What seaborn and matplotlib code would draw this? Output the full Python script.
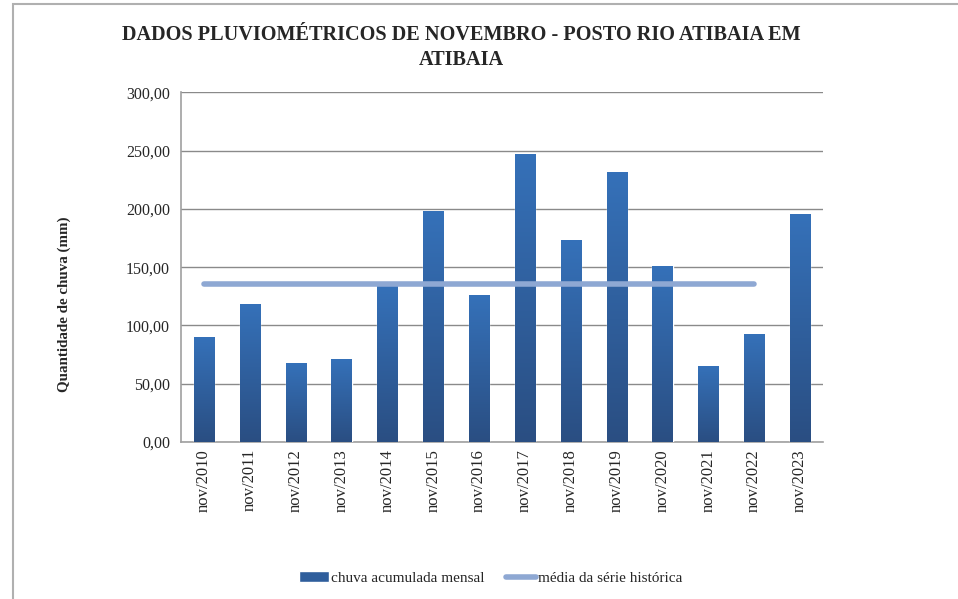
import numpy as np
import pandas as pd
import matplotlib
matplotlib.use("Agg")
import matplotlib.pyplot as plt
import seaborn as sns
from matplotlib.patches import Rectangle
from matplotlib.lines import Line2D

# Data
meses = ["nov/2010", "nov/2011", "nov/2012", "nov/2013", "nov/2014", "nov/2015", "nov/2016",
         "nov/2017", "nov/2018", "nov/2019", "nov/2020", "nov/2021", "nov/2022", "nov/2023"]
chuva = [89.7, 118.0, 67.5, 71.0, 134.0, 198.0, 126.0, 247.0, 173.0, 231.4, 151.0, 65.5, 92.9, 195.5]
media = [135.8, 135.8, 135.8, 135.8, 135.8, 135.8, 135.8, 135.8, 135.8, 135.8, 135.8, 135.8, 135.8, np.nan]
y_ticks = [0, 50, 100, 150, 200, 250, 300]

df = pd.DataFrame({"mes": meses, "chuva": chuva, "media": media})

sns.set_theme(style="white")
plt.rcParams["font.family"] = ["Liberation Serif", "DejaVu Serif"]

fig = plt.figure(figsize=(9.58, 5.99), dpi=100)
ax = fig.add_axes([0.189, 0.262, 0.670, 0.584])

# outer chart frame (partly cut by the image edge)
fig.patches.append(Rectangle((13 / 958, -0.1), 1.2, 1.1 - 4 / 599, transform=fig.transFigure,
                             fill=False, edgecolor="#b0b0b0", linewidth=1.5, zorder=0))

sns.barplot(data=df, x="mes", y="chuva", color="#2f63a3", width=0.44, ax=ax, zorder=3)

# vertical gradient inside each bar
grad = np.linspace(0, 1, 256).reshape(-1, 1)
cmap = matplotlib.colors.LinearSegmentedColormap.from_list("g", ["#2a4e82", "#3571b9"])
for p in ax.patches:
    x0, y0 = p.get_x(), p.get_y()
    w, h = p.get_width(), p.get_height()
    im = ax.imshow(grad, extent=[x0, x0 + w, y0, y0 + h], origin="lower", cmap=cmap,
                   aspect="auto", zorder=4)
    im.set_clip_path(p)

ax.plot(np.arange(len(meses)), df["media"], color="#8ea8d3", linewidth=4,
        solid_capstyle="round", zorder=5)

ax.set_xlim(-0.5, len(meses) - 0.5)
ax.set_ylim(0, 300)
ax.set_yticks(y_ticks)
ax.set_yticklabels([f"{v:.2f}".replace(".", ",") for v in y_ticks], fontsize=11.5)
ax.set_xticks(range(len(meses)))
ax.set_xticklabels(meses, rotation=90, fontsize=12)
ax.tick_params(axis="y", length=0, pad=8)
ax.tick_params(axis="x", length=0, pad=5)
ax.yaxis.grid(True, color="#8a8a8a", linewidth=1)
ax.set_axisbelow(True)
ax.set_xlabel("")
ax.set_ylabel("Quantidade de chuva (mm)", fontsize=10.8, fontweight="bold")
ax.yaxis.set_label_coords(-0.172, 0.395)
for s in ["top", "right"]:
    ax.spines[s].set_visible(False)
for s in ["left", "bottom"]:
    ax.spines[s].set_color("#a0a0a0")
    ax.spines[s].set_linewidth(1.2)

fig.text(0.482, 0.921, "DADOS PLUVIOMÉTRICOS DE NOVEMBRO - POSTO RIO ATIBAIA EM\nATIBAIA",
         ha="center", va="center", fontsize=14.6, fontweight="bold", linespacing=1.3)

handles = [Rectangle((0, 0), 1, 1, facecolor="#2f5e9c"),
           Line2D([0], [0], color="#8ea8d3", linewidth=4, solid_capstyle="round")]
fig.legend(handles, ["chuva acumulada mensal", "média da série histórica"],
           loc="center", bbox_to_anchor=(0.512, 0.035), ncol=2, frameon=False,
           fontsize=11, handlelength=2.0, handletextpad=0.1, columnspacing=1.4)

fig.savefig("out.png", dpi=100)
